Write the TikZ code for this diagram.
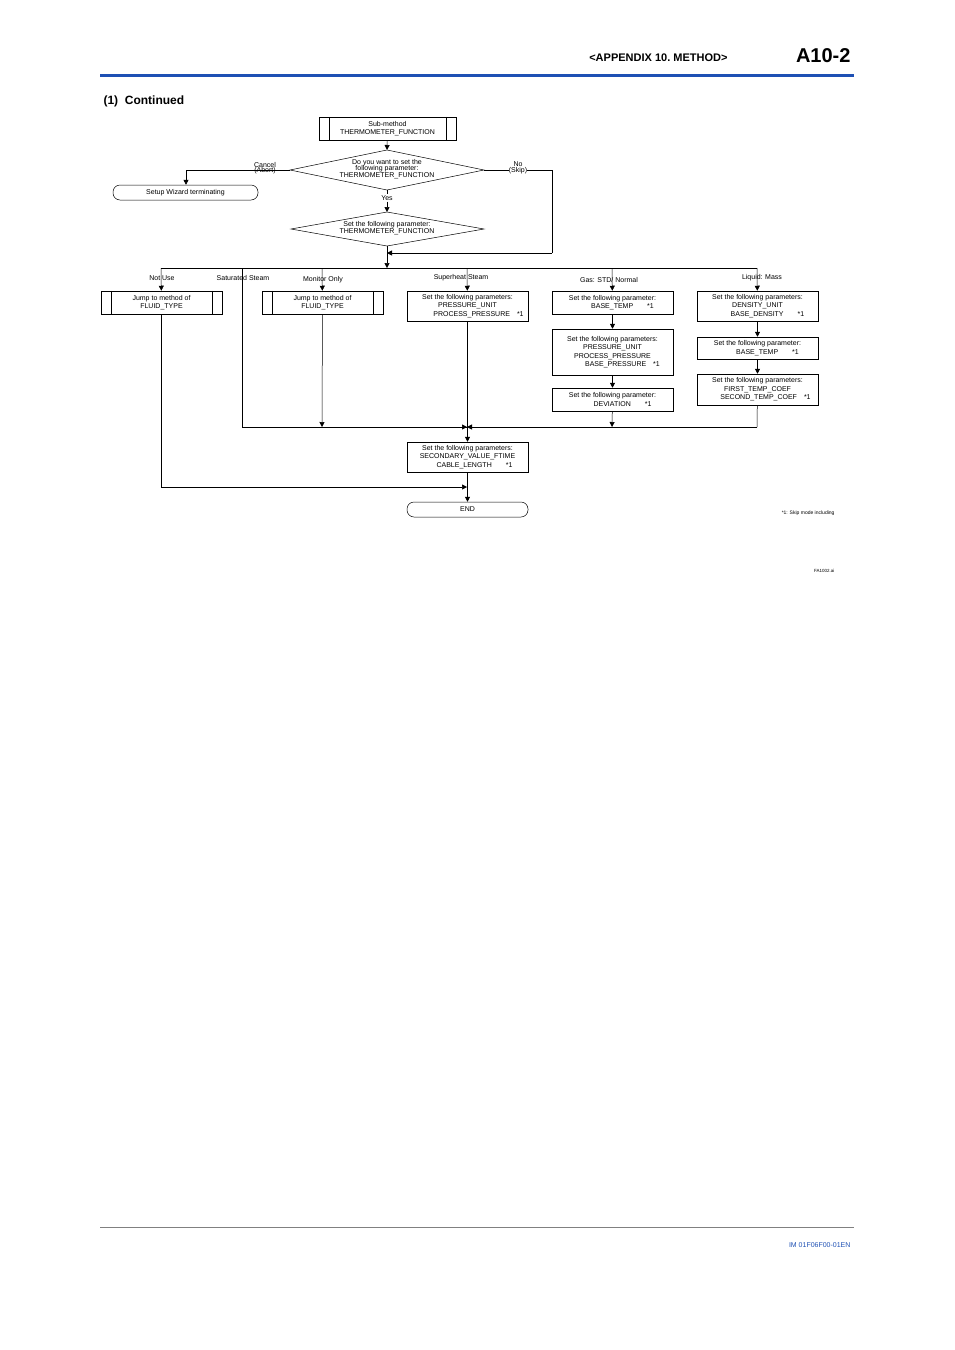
\documentclass[tikz,border=0pt]{standalone}
\usepackage{fontspec}
\setmainfont{Liberation Sans}
\usetikzlibrary{arrows.meta,calc,positioning}
\definecolor{ykblue}{RGB}{30,80,180}
\tikzset{
  flow/.style={draw,line width=0.5pt,inner sep=1pt,font=\fontsize{7}{8.5}\selectfont,align=center},
  proc/.style={flow,minimum width=121pt},
  term/.style={flow,rounded corners=7pt,minimum height=15pt},
  lbl/.style={font=\fontsize{7}{7.5}\selectfont,align=center,inner sep=0pt},
  arr/.style={-{Triangle[width=5pt,length=5pt]},line width=0.5pt},
  ln/.style={line width=0.5pt}
}
\begin{document}
\begin{tikzpicture}[x=1pt,y=-1pt]
  \useasboundingbox (0,0) rectangle (954,1350);
  % header
  \draw[ykblue,line width=3pt] (100,75) -- (854,75);
  \node[anchor=base east,font=\fontsize{11}{12}\selectfont\bfseries] (hdr) at (731,61) {<APPENDIX 10.\ METHOD>};
  \node[anchor=base east,font=\fontsize{20}{22}\selectfont\bfseries] (pg) at (854,62) {A10-2};
  \node[anchor=base west,font=\fontsize{12}{14}\selectfont\bfseries] (sec) at (100,104) {(1)\ \ Continued};
  \draw[gray,line width=0.5pt] (100,1227) -- (854,1227);
  \node[anchor=base east,ykblue,font=\fontsize{7}{8}\selectfont] (doc) at (854,1247) {IM 01F06F00-01EN};

  % sub-method
  \node[proc,minimum width=137pt,minimum height=23pt] (sub) at (387.5,128.5) {Sub-method\\THERMOMETER\_FUNCTION};
  \draw[ln] ($(sub.north west)+(10,0)$) -- ($(sub.south west)+(10,0)$)
            ($(sub.north east)+(-10,0)$) -- ($(sub.south east)+(-10,0)$);
  % question diamond
  \coordinate (qw) at (290,170); \coordinate (qe) at (484,170);
  \coordinate (qn) at (387,150); \coordinate (qs) at (387,190);
  \draw[ln] (qw) -- (qn) -- (qe) -- (qs) -- cycle;
  \node[lbl] (qtxt) at (387,169) {Do you want to set the\\[-1pt]following parameter:\\[-1pt]THERMOMETER\_FUNCTION};
  \draw[arr] (sub) -- (qn);
  % cancel
  \node[term,minimum width=145pt] (wiz) at (185.5,192.5) {Setup Wizard terminating};
  \node[lbl] (cancel) at (265,168) {Cancel\\[-2pt](Abort)};
  \draw[arr] (qw) -| (wiz.north -| 186,0);
  % set diamond
  \coordinate (sw) at (291,229); \coordinate (se) at (484,229);
  \coordinate (sn) at (387,212); \coordinate (ss) at (387,246);
  \draw[ln] (sw) -- (sn) -- (se) -- (ss) -- cycle;
  \node[lbl] (stxt) at (387,228) {Set the following parameter:\\THERMOMETER\_FUNCTION};
  \node[lbl,fill=white,inner sep=1pt] (yes) at (387,198) {Yes};
  \draw[ln] (qs) -- (yes);
  \draw[arr] (yes) -- (sn);
  % skip
  \node[lbl] (skip) at (518,168) {No\\[-2pt](Skip)};
  \coordinate (sk1) at (552,170); \coordinate (sk2) at (552,253);
  \coordinate (mid) at (387,253);
  \draw[ln] (qe) -- (skip.west |- qe);
  \draw[ln] (skip.east |- qe) -- (sk1) -- (sk2);
  \draw[arr] (sk2) -- (mid);
  % bus
  \coordinate (bus) at (387,268);
  \draw[arr] (ss) -- (bus);
  \draw[ln] (161,268) -- (757,268);

  % branch labels
  \node[lbl] (lnot) at (162,278) {Not Use};
  \node[lbl] (lsat) at (243,278) {Saturated Steam};
  \node[lbl] (lmon) at (323,280) {Monitor Only};
  \node[lbl] (lsup) at (461,278) {Superheat Steam};
  \node[lbl] (lgas) at (609,280) {Gas: STD/ Normal};
  \node[lbl] (lliq) at (762,278) {Liquid: Mass};

  % boxes
  \node[proc,minimum height=23pt] (jmp1) at (161.5,302.5) {Jump to method of\\FLUID\_TYPE};
  \node[proc,minimum height=23pt] (jmp2) at (322.5,302.5) {Jump to method of\\FLUID\_TYPE};
  \foreach \n in {jmp1,jmp2}
    \draw[ln] ($(\n.north west)+(10,0)$) -- ($(\n.south west)+(10,0)$)
              ($(\n.north east)+(-10,0)$) -- ($(\n.south east)+(-10,0)$);
  \node[proc,minimum height=30pt] (sup) at (467.5,306) {Set the following parameters:\\PRESSURE\_UNIT\\\hspace*{22pt}PROCESS\_PRESSURE\quad *1};
  \node[proc,minimum height=23pt] (gas1) at (612.5,302.5) {Set the following parameter:\\\hspace*{20pt}BASE\_TEMP\qquad *1};
  \node[proc,minimum height=46pt] (gas2) at (612.5,352) {Set the following parameters:\\PRESSURE\_UNIT\\PROCESS\_PRESSURE\\\hspace*{20pt}BASE\_PRESSURE\quad *1};
  \node[proc,minimum height=23pt] (gas3) at (612.5,399.5) {Set the following parameter:\\\hspace*{20pt}DEVIATION\qquad *1};
  \node[proc,minimum height=30pt] (liq1) at (757.5,306) {Set the following parameters:\\DENSITY\_UNIT\\\hspace*{20pt}BASE\_DENSITY\qquad *1};
  \node[proc,minimum height=22pt,minimum width=121pt] (liq2) at (757.5,348) {Set the following parameter:\\\hspace*{20pt}BASE\_TEMP\qquad *1};
  \node[proc,minimum height=31pt] (liq3) at (757.5,389.5) {Set the following parameters:\\FIRST\_TEMP\_COEF\\\hspace*{16pt}SECOND\_TEMP\_COEF\quad *1};
  \node[proc,minimum height=30pt] (fin) at (467.5,457) {Set the following parameters:\\SECONDARY\_VALUE\_FTIME\\\hspace*{14pt}CABLE\_LENGTH\qquad *1};
  \node[term,minimum width=121pt] (end) at (467.5,509.5) {END};

  % branch arrows
  \draw[arr] (161,268) -- (jmp1);
  \draw[arr] (322,268) -- (jmp2);
  \draw[arr] (467,268) -- (sup);
  \draw[arr] (612,268) -- (gas1);
  \draw[arr] (757,268) -- (liq1);
  \draw[arr] (gas1) -- (gas2);
  \draw[arr] (gas2) -- (gas3);
  \draw[arr] (liq1) -- (liq2);
  \draw[arr] (liq2) -- (liq3);
  % merging
  \coordinate (mrg) at (467,427);
  \draw[ln] (242,268) -- (242,427) -- (mrg);
  \draw[arr] (jmp2) -- (322,427);
  \draw[ln] (liq3) -- (757,427);
  \draw[arr] (757,427) -- (mrg);
  \draw[arr] (460,427) -- (mrg);
  \draw[arr] (gas3) -- (612,427);
  \draw[arr] (sup) -- (fin);
  \coordinate (fin2) at (467,487);
  \draw[arr] (jmp1) |- (fin2);
  \draw[arr] (fin) -- (end);

  % notes
  \node[anchor=base east,font=\fontsize{5}{6}\selectfont] (note) at (838,514) {*1: Skip mode including};
  \node[anchor=base east,font=\fontsize{4.5}{5}\selectfont] (fa) at (838,572) {FA1002.ai};
\end{tikzpicture}
\end{document}
